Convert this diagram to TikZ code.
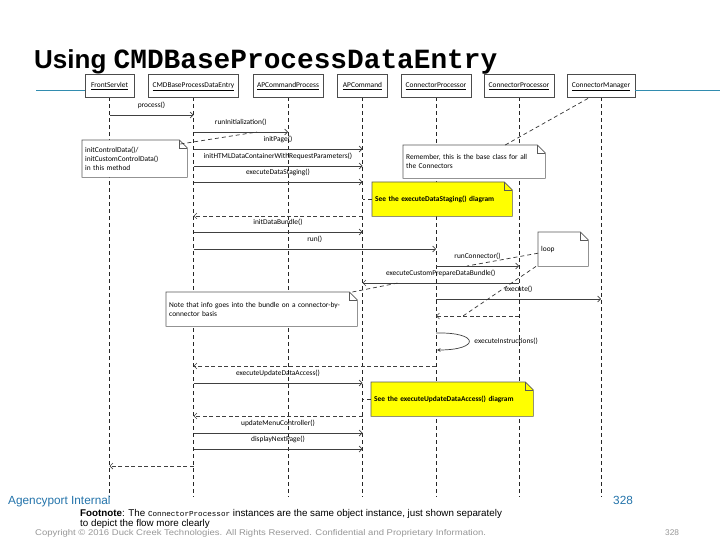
\documentclass[tikz,border=0pt]{standalone}
\usepackage{fontspec}
\usepackage{graphicx}
\setmainfont{Liberation Sans}
\setsansfont{Liberation Sans}
\setmonofont{Liberation Mono}
\newfontfamily\diag{Carlito}
\newfontfamily\cour{Liberation Mono}
\usetikzlibrary{arrows.meta}
\pgfdeclarelayer{lines}
\pgfdeclarelayer{notes}
\pgfsetlayers{lines,notes,main}
\definecolor{tealline}{RGB}{50,140,175}
\definecolor{tealtext}{RGB}{35,115,170}
\definecolor{notey}{RGB}{255,255,0}
\definecolor{copyg}{RGB}{150,150,150}
\newcommand\lbl{\diag\fontsize{7.4}{8.8}\selectfont}
\tikzset{
  head/.style={draw=black!70, line width=0.6pt, minimum height=23pt, inner sep=1pt, font=\lbl, fill=white, text height=5.5pt, text depth=1.5pt},
  life/.style={draw=black!85, line width=0.7pt, dash pattern=on 4pt off 3pt},
  msg/.style={draw=black!75, line width=0.7pt, -{Straight Barb[length=3pt,width=6pt]}},
  ret/.style={msg, dash pattern=on 4pt off 2.5pt},
  mlabel/.style={font=\lbl, inner sep=0pt, text=black},
  noteline/.style={draw=black!80, line width=0.7pt, dash pattern=on 4pt off 3pt},
  notebox/.style={anchor=north west, inner sep=3pt, font=\lbl, align=left, text=black},
  foot/.style={anchor=base west, inner sep=0pt},
}
\newcommand\callmsg[4]{\draw[msg] (#1 |- 0,#3) -- (#2 |- 0,#3) node[mlabel, midway, yshift=10pt] {#4};}
\newcommand\retmsg[3]{\draw[ret] (#1 |- 0,#3) -- (#2 |- 0,#3);}
\newcommand\noteoutline[2]{\begin{pgfonlayer}{notes}
  \filldraw[fill=#2, draw=black!65, line width=0.6pt] (#1.north west) -- ([xshift=-8pt]#1.north east) -- ([yshift=-8pt]#1.north east) -- (#1.south east) -- (#1.south west) -- cycle;
  \draw[draw=black!65, line width=0.6pt] ([xshift=-8pt]#1.north east) |- ([yshift=-8pt]#1.north east);
\end{pgfonlayer}}
\begin{document}
\begin{tikzpicture}[x=1pt,y=-1pt]
\useasboundingbox (0,0) rectangle (720,540);
% title
\node[anchor=base west, inner sep=0pt] (title) at (34,69) {\fontsize{26}{30}\selectfont\sffamily\bfseries Using \fontsize{27.8}{30}\selectfont\ttfamily CMDBaseProcessDataEntry};
\coordinate (tl1) at (36,91);
\coordinate (tr2) at (720,91);
% lifeline heads
\node[head, minimum width=49pt] (fs) at (109.5,85.5) {\underline{FrontServlet}};
\node[head, minimum width=90pt] (cmd) at (193.5,85.5) {\underline{CMDBaseProcessDataEntry}};
\node[head, minimum width=70pt] (apcp) at (288,85.5) {\underline{APCommandProcess}};
\node[head, minimum width=50pt] (apc) at (362.5,85.5) {\underline{APCommand}};
\node[head, minimum width=70pt] (cp) at (436,85.5) {\underline{ConnectorProcessor}};
\node[head, minimum width=70pt] (cp2) at (519,85.5) {\underline{ConnectorProcessor}};
\node[head, minimum width=68pt] (cm) at (601,85.5) {\underline{ConnectorManager}};
\draw[tealline, line width=1pt] (tl1) -- (fs.west |- tl1);
\draw[tealline, line width=1pt] (cm.east |- tr2) -- (tr2);
% lifelines
\begin{pgfonlayer}{lines}
\foreach \n in {fs,cmd,apcp,apc,cp,cp2,cm}{\draw[life] (\n.south) -- (\n.south |- 0,497);}
\end{pgfonlayer}
% messages
\callmsg{fs}{cmd}{115}{process()}
\callmsg{cmd}{apcp}{132}{runInitialization()}
\callmsg{cmd}{apc}{149}{initPage()}
\callmsg{cmd}{apc}{166}{initHTMLDataContainerWithRequestParameters()}
\callmsg{cmd}{apc}{182}{executeDataStaging()}
\retmsg{apc}{cmd}{216}
\callmsg{cmd}{apc}{232}{initDataBundle()}
\callmsg{cmd}{cp}{249}{run()}
\callmsg{cp}{cp2}{266}{runConnector()}
\callmsg{cp2}{apc}{283}{executeCustomPrepareDataBundle()}
\callmsg{cp}{cm}{299}{execute()}
\retmsg{cp2}{cp}{316}
\draw[draw=black!75, line width=0.7pt, -{Stealth[length=3.5pt,width=3.5pt]}] (cp |- 0,333) .. controls (480,332) and (480,350) .. ([xshift=1pt]cp |- 0,350) node[mlabel, anchor=west, pos=0.5, xshift=5pt] {executeInstructions()};
\retmsg{cp}{cmd}{366}
\callmsg{cmd}{apc}{383}{executeUpdateDataAccess()}
\retmsg{apc}{cmd}{416}
\callmsg{cmd}{apc}{433}{updateMenuController()}
\callmsg{cmd}{apc}{449}{displayNextPage()}
\retmsg{cmd}{fs}{466}
% notes
\node[notebox, minimum width=105pt, minimum height=37pt, text width=99pt] (n1) at (82,140) {initControlData()/\\initCustomControlData()\\in this method};
\noteoutline{n1}{white}
\node[notebox, minimum width=142pt, minimum height=33pt, text width=136pt] (n2) at (403,145) {Remember, this is the base class for all\\the Connectors};
\noteoutline{n2}{white}
\node[notebox, minimum width=140pt, minimum height=34pt, text width=134pt, font=\lbl\bfseries] (y1) at (372,182) {See the executeDataStaging() diagram};
\noteoutline{y1}{notey}
\node[notebox, minimum width=50pt, minimum height=34pt, text width=44pt] (lp) at (538,232) {loop};
\noteoutline{lp}{white}
\node[notebox, minimum width=191pt, minimum height=34pt, text width=185pt] (n3) at (166,292) {Note that info goes into the bundle on a connector-by-\\connector basis};
\noteoutline{n3}{white}
\node[notebox, minimum width=162pt, minimum height=34pt, text width=156pt, font=\lbl\bfseries] (y2) at (371,382) {See the executeUpdateDataAccess() diagram};
\noteoutline{y2}{notey}
% note anchors
\coordinate (a1) at (257,132);
\coordinate (a2) at (467,266);
\coordinate (a3) at (463,316);
\coordinate (a4) at (398,283);
\draw[noteline] ([xshift=-7pt,yshift=-4pt]n1.north east) -- (a1);
\draw[noteline] ([xshift=31pt]n2.north) -- ([xshift=-11pt]cm.south);
\draw[noteline] (y1.west) -- (apc |- y1.west);
\draw[noteline] ([yshift=-4pt]lp.west) -- (a2);
\draw[noteline] ([xshift=-2pt]lp.south west) -- (a3);
\draw[noteline] ([xshift=-5pt]n3.north east) -- (a4);
\draw[noteline] (y2.west) -- (apc |- y2.west);
% footer
\node[foot, text=tealtext, font=\fontsize{11.8}{13}\selectfont] (ai) at (8,504) {Agencyport Internal};
\node[foot, text=tealtext, font=\fontsize{11.8}{13}\selectfont] (pg1) at (613,504) {328};
\node[foot, font=\fontsize{9.8}{11}\selectfont] (fn1) at (80,516) {\textbf{Footnote}: The {\cour\fontsize{7.6}{10}\selectfont ConnectorProcessor} instances are the same object instance, just shown separately};
\node[foot, font=\fontsize{9.8}{11}\selectfont] (fn2) at (80,526) {to depict the flow more clearly};
\node[foot, text=copyg, font=\fontsize{8.3}{10}\selectfont] (cr) at (35,535) {\scalebox{1.145}[1]{Copyright \textcopyright{} 2016 Duck Creek Technologies. All Rights Reserved. Confidential and Proprietary Information.}};
\node[foot, text=copyg, font=\fontsize{8.3}{10}\selectfont] (pg2) at (665,535) {328};
\end{tikzpicture}
\end{document}
